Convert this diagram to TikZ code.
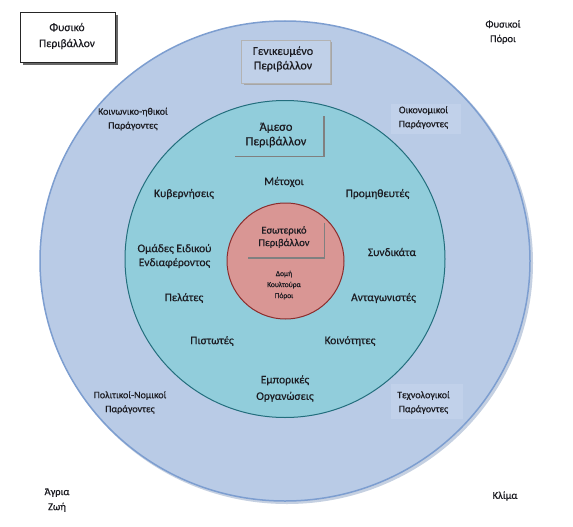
\documentclass[tikz,border=0pt]{standalone}
\usepackage{fontspec}
\setmainfont{Carlito}[FakeBold=0.6]
\definecolor{outerfill}{RGB}{185,203,230}
\definecolor{outerline}{RGB}{125,158,208}
\definecolor{outershade}{RGB}{150,170,200}
\definecolor{midfill}{RGB}{145,205,219}
\definecolor{midline}{RGB}{35,110,125}
\definecolor{innerfill}{RGB}{217,150,148}
\definecolor{innerline}{RGB}{140,45,45}
\definecolor{txt}{RGB}{28,28,34}
\definecolor{patch}{RGB}{193,209,234}
\definecolor{genfill}{RGB}{192,208,232}
\definecolor{shadowgray}{RGB}{128,128,128}
\tikzset{
  lbl/.style={text=txt, align=center, inner sep=0pt, font=\fontsize{11.5}{14}\selectfont},
  fac/.style={text=txt, align=center, inner sep=0pt, font=\fontsize{10}{14}\selectfont},
  small/.style={text=txt, align=center, inner sep=0pt, font=\fontsize{7.5}{11}\selectfont},
  shadowline/.style={draw=shadowgray, line width=1.4pt},
}
\begin{document}
\begin{tikzpicture}[x=1pt,y=-1pt]
\useasboundingbox[fill=white] (0,0) rectangle (573,527);
% outer circle
\fill[outershade!55] (287,263) ellipse[x radius=246pt, y radius=241pt];
\filldraw[fill=outerfill, draw=outerline, line width=1.5pt] (285,261) ellipse[x radius=245pt, y radius=240pt];
% patches
\fill[patch] (391,104) rectangle (461,134);
\fill[patch] (391,384) rectangle (463,419);
% middle circle
\filldraw[fill=midfill, draw=midline, line width=1pt] (285,259) ellipse[x radius=160pt, y radius=158.5pt];
% inner circle
\filldraw[fill=innerfill, draw=innerline, line width=1pt] (285.5,261) ellipse[x radius=58.5pt, y radius=58pt];

% Physical environment box
\fill[shadowgray!80!black] (22.5,15.5) rectangle (117.5,65.5);
\filldraw[fill=white, draw=black!85, line width=1pt] (20,13) rectangle (115,63);
\node[lbl, font=\fontsize{11.5}{16}\selectfont] (fysiko) at (67,36) {Φυσικό\\Περιβάλλον};

% general environment box
\fill[shadowgray!70] (243.5,42) rectangle (332,85);
\filldraw[fill=genfill, draw=shadowgray!60, line width=0.4pt] (241.5,40) rectangle (330,83);
\node[lbl, font=\fontsize{12}{14.5}\selectfont] (gen) at (283,59) {Γενικευμένο\\Περιβάλλον};

% immediate environment
\node[lbl, font=\fontsize{12.5}{14.5}\selectfont] (amesso) at (276,135) {Άμεσο\\Περιβάλλον};
\draw[shadowline] (324,116) -- (324,156.5) -- (234.5,156.5);

% internal environment
\node[lbl, font=\fontsize{10.5}{12.5}\selectfont] (eso) at (284,237) {Εσωτερικό\\Περιβάλλον};
\draw[shadowline] (324.5,223) -- (324.5,258) -- (248,258);
\node[small] (domi) at (284,285) {Δομή\\Κουλτούρα\\Πόροι};

% stakeholders
\node[lbl] (metochoi) at (284,182) {Μέτοχοι};
\node[lbl] (kyv) at (184,194) {Κυβερνήσεις};
\node[lbl] (prom) at (377.5,194) {Προμηθευτές};
\node[lbl] (omades) at (174.5,256) {Ομάδες Ειδικού\\Ενδιαφέροντος};
\node[lbl] (synd) at (392,252) {Συνδικάτα};
\node[lbl] (pel) at (184,298) {Πελάτες};
\node[lbl] (antag) at (383.5,298) {Ανταγωνιστές};
\node[lbl] (pist) at (212,341) {Πιστωτές};
\node[lbl] (koin) at (350,341) {Κοινότητες};
\node[lbl, font=\fontsize{11.5}{16.5}\selectfont] (empor) at (285,388.5) {Εμπορικές\\Οργανώσεις};

% general factors
\node[fac] (koinon) at (133,119) {Κοινωνικο-ηθικοί\\Παράγοντες};
\node[fac] (oikon) at (423.5,117.5) {Οικονομικοί\\Παράγοντες};
\node[fac] (polit) at (130,402.5) {Πολιτικοί-Νομικοί\\Παράγοντες};
\node[fac] (techn) at (423.5,402.5) {Τεχνολογικοί\\Παράγοντες};

% physical environment items
\node[fac, font=\fontsize{10.5}{14.5}\selectfont] (poroi) at (503,32) {Φυσικοί\\Πόροι};
\node[fac, font=\fontsize{10.5}{15}\selectfont] (agria) at (57,500) {Άγρια\\Ζωή};
\node[fac, font=\fontsize{10.5}{14}\selectfont] (klima) at (505,496) {Κλίμα};
\end{tikzpicture}
\end{document}
